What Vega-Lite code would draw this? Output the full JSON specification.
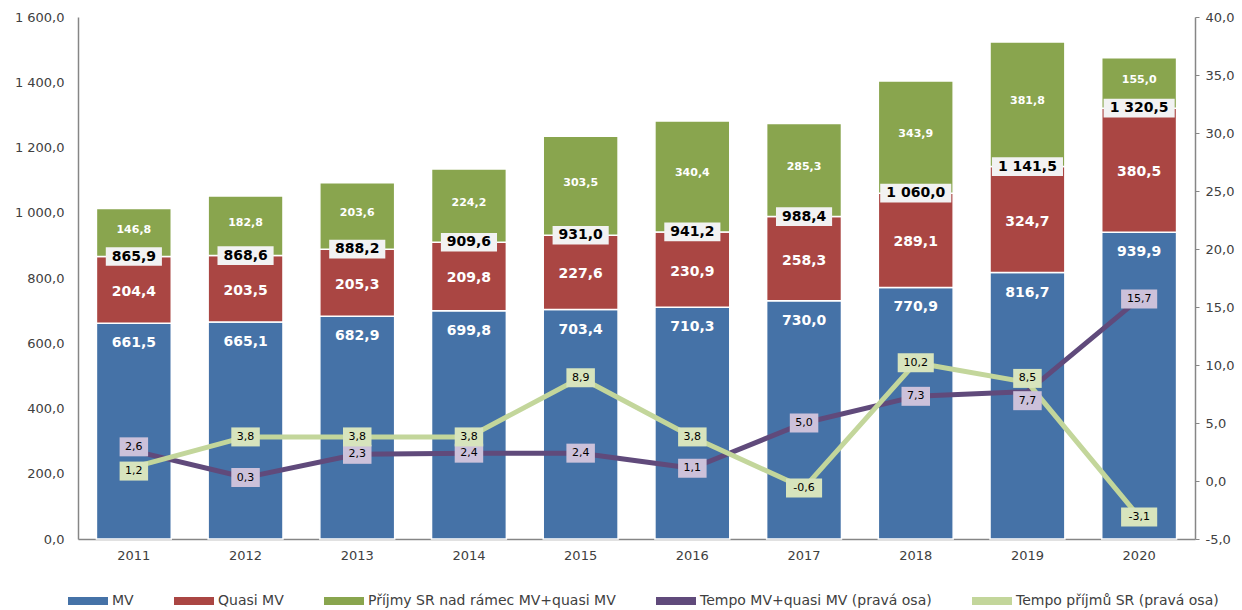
{
  "$schema": "https://vega.github.io/schema/vega-lite/v6.json",
  "width": 1117,
  "height": 522,
  "autosize": {"type": "none"},
  "padding": {"left": 78, "top": 17, "right": 47, "bottom": 71},
  "background": "white",
  "config": {
    "locale": {"number": {"decimal": ",", "thousands": " ", "grouping": [3], "currency": ["", ""], "minus": "-"}},
    "view": {"stroke": null},
    "font": "DejaVu Sans",
    "axis": {"labelFont": "DejaVu Sans", "labelFontSize": 13, "labelColor": "#404040", "domainColor": "#868686", "tickColor": "#868686", "grid": false, "title": null},
    "axisX": {"labelAngle": 0, "ticks": false, "labelPadding": 10, "domainWidth": 1.5},
    "legend": {
      "orient": "none", "legendX": -10, "legendY": 564, "direction": "horizontal", "columns": 5,
      "columnPadding": 40, "labelFont": "DejaVu Sans", "labelFontSize": 14, "labelColor": "#404040", "labelLimit": 0,
      "symbolType": "M-1,-0.2H1V0.2H-1Z", "symbolSize": 1600, "symbolStrokeWidth": 0, "title": null, "labelOffset": 4
    }
  },
  "datasets": {
    "bars": [
      {"year": "2011", "series": "MV", "value": 661.5}, {"year": "2011", "series": "Quasi MV", "value": 204.4}, {"year": "2011", "series": "Příjmy SR nad rámec MV+quasi MV", "value": 146.8},
      {"year": "2012", "series": "MV", "value": 665.1}, {"year": "2012", "series": "Quasi MV", "value": 203.5}, {"year": "2012", "series": "Příjmy SR nad rámec MV+quasi MV", "value": 182.8},
      {"year": "2013", "series": "MV", "value": 682.9}, {"year": "2013", "series": "Quasi MV", "value": 205.3}, {"year": "2013", "series": "Příjmy SR nad rámec MV+quasi MV", "value": 203.6},
      {"year": "2014", "series": "MV", "value": 699.8}, {"year": "2014", "series": "Quasi MV", "value": 209.8}, {"year": "2014", "series": "Příjmy SR nad rámec MV+quasi MV", "value": 224.2},
      {"year": "2015", "series": "MV", "value": 703.4}, {"year": "2015", "series": "Quasi MV", "value": 227.6}, {"year": "2015", "series": "Příjmy SR nad rámec MV+quasi MV", "value": 303.5},
      {"year": "2016", "series": "MV", "value": 710.3}, {"year": "2016", "series": "Quasi MV", "value": 230.9}, {"year": "2016", "series": "Příjmy SR nad rámec MV+quasi MV", "value": 340.4},
      {"year": "2017", "series": "MV", "value": 730.0}, {"year": "2017", "series": "Quasi MV", "value": 258.3}, {"year": "2017", "series": "Příjmy SR nad rámec MV+quasi MV", "value": 285.3},
      {"year": "2018", "series": "MV", "value": 770.9}, {"year": "2018", "series": "Quasi MV", "value": 289.1}, {"year": "2018", "series": "Příjmy SR nad rámec MV+quasi MV", "value": 343.9},
      {"year": "2019", "series": "MV", "value": 816.7}, {"year": "2019", "series": "Quasi MV", "value": 324.7}, {"year": "2019", "series": "Příjmy SR nad rámec MV+quasi MV", "value": 381.8},
      {"year": "2020", "series": "MV", "value": 939.9}, {"year": "2020", "series": "Quasi MV", "value": 380.5}, {"year": "2020", "series": "Příjmy SR nad rámec MV+quasi MV", "value": 155.0}
    ],
    "totals": [
      {"year": "2011", "total": 865.9}, {"year": "2012", "total": 868.6}, {"year": "2013", "total": 888.2},
      {"year": "2014", "total": 909.6}, {"year": "2015", "total": 931.0}, {"year": "2016", "total": 941.2},
      {"year": "2017", "total": 988.4}, {"year": "2018", "total": 1060.0}, {"year": "2019", "total": 1141.5},
      {"year": "2020", "total": 1320.5}
    ],
    "lines": [
      {"year": "2011", "series": "Tempo MV+quasi MV (pravá osa)", "value": 2.6}, {"year": "2011", "series": "Tempo příjmů SR (pravá osa)", "value": 1.2},
      {"year": "2012", "series": "Tempo MV+quasi MV (pravá osa)", "value": 0.3}, {"year": "2012", "series": "Tempo příjmů SR (pravá osa)", "value": 3.8},
      {"year": "2013", "series": "Tempo MV+quasi MV (pravá osa)", "value": 2.3}, {"year": "2013", "series": "Tempo příjmů SR (pravá osa)", "value": 3.8},
      {"year": "2014", "series": "Tempo MV+quasi MV (pravá osa)", "value": 2.4}, {"year": "2014", "series": "Tempo příjmů SR (pravá osa)", "value": 3.8},
      {"year": "2015", "series": "Tempo MV+quasi MV (pravá osa)", "value": 2.4}, {"year": "2015", "series": "Tempo příjmů SR (pravá osa)", "value": 8.9},
      {"year": "2016", "series": "Tempo MV+quasi MV (pravá osa)", "value": 1.1}, {"year": "2016", "series": "Tempo příjmů SR (pravá osa)", "value": 3.8},
      {"year": "2017", "series": "Tempo MV+quasi MV (pravá osa)", "value": 5.0}, {"year": "2017", "series": "Tempo příjmů SR (pravá osa)", "value": -0.6},
      {"year": "2018", "series": "Tempo MV+quasi MV (pravá osa)", "value": 7.3}, {"year": "2018", "series": "Tempo příjmů SR (pravá osa)", "value": 10.2},
      {"year": "2019", "series": "Tempo MV+quasi MV (pravá osa)", "value": 7.7}, {"year": "2019", "series": "Tempo příjmů SR (pravá osa)", "value": 8.5},
      {"year": "2020", "series": "Tempo MV+quasi MV (pravá osa)", "value": 15.7}, {"year": "2020", "series": "Tempo příjmů SR (pravá osa)", "value": -3.1}
    ]
  },
  "layer": [
    {
      "encoding": {
        "x": {"field": "year", "type": "ordinal", "scale": {"paddingInner": 0.33, "paddingOuter": 0.165}},
        "y": {"type": "quantitative", "scale": {"domain": [0, 1600]}, "axis": {"orient": "left", "values": [0, 200, 400, 600, 800, 1000, 1200, 1400, 1600], "format": ",.1f", "ticks": false, "domainWidth": 1.5, "labelPadding": 14}}
      },
      "layer": [
        {
          "data": {"name": "bars"},
          "transform": [
            {"calculate": "indexof(['MV','Quasi MV','Příjmy SR nad rámec MV+quasi MV'], datum.series)", "as": "ord"},
            {"stack": "value", "groupby": ["year"], "sort": [{"field": "ord", "order": "ascending"}], "as": ["y0", "y1"]},
            {"calculate": "(datum.y0 + datum.y1) / 2", "as": "mid"}
          ],
          "layer": [
            {
              "mark": {"type": "bar", "stroke": "white", "strokeWidth": 1.5},
              "encoding": {
                "y": {"field": "y1", "type": "quantitative"},
                "y2": {"field": "y0"},
                "color": {
                  "field": "series", "type": "nominal",
                  "scale": {
                    "domain": ["MV", "Quasi MV", "Příjmy SR nad rámec MV+quasi MV", "Tempo MV+quasi MV (pravá osa)", "Tempo příjmů SR (pravá osa)"],
                    "range": ["#4572A7", "#AA4643", "#89A54E", "#604A7B", "#C3D69B"]
                  },
                  "legend": {"encode": {"symbols": {"update": {"fill": {"scale": "color", "field": "value"}, "strokeWidth": {"value": 0}}}}}
                }
              }
            },
            {
              "transform": [{"filter": "datum.series === 'MV'"}],
              "mark": {"type": "text", "color": "white", "fontWeight": "bold", "fontSize": 14, "dy": 20, "baseline": "middle"},
              "encoding": {"y": {"field": "y1", "type": "quantitative"}, "text": {"field": "value", "type": "quantitative", "format": ",.1f"}}
            },
            {
              "transform": [{"filter": "datum.series === 'Quasi MV'"}],
              "mark": {"type": "text", "color": "white", "fontWeight": "bold", "fontSize": 14, "baseline": "middle", "dy": 2},
              "encoding": {"y": {"field": "mid", "type": "quantitative"}, "text": {"field": "value", "type": "quantitative", "format": ",.1f"}}
            },
            {
              "transform": [{"filter": "datum.series === 'Příjmy SR nad rámec MV+quasi MV'"}],
              "mark": {"type": "text", "color": "white", "fontWeight": "bold", "fontSize": 11, "baseline": "middle", "dy": -3},
              "encoding": {"y": {"field": "mid", "type": "quantitative"}, "text": {"field": "value", "type": "quantitative", "format": ",.1f"}}
            }
          ]
        },
        {
          "data": {"name": "totals"},
          "layer": [
            {
              "mark": {"type": "point", "filled": true, "fill": "#F2F2F2", "opacity": 1, "size": 1400, "strokeWidth": 0},
              "encoding": {
                "y": {"field": "total", "type": "quantitative"},
                "shape": {"condition": {"test": "datum.total >= 1000", "value": "M-1.9,-0.5H1.9V0.5H-1.9Z"}, "value": "M-1.5,-0.5H1.5V0.5H-1.5Z"}
              }
            },
            {
              "mark": {"type": "text", "color": "black", "fontWeight": "bold", "fontSize": 14, "baseline": "middle"},
              "encoding": {"y": {"field": "total", "type": "quantitative"}, "text": {"field": "total", "type": "quantitative", "format": ",.1f"}}
            }
          ]
        }
      ]
    },
    {
      "data": {"name": "lines"},
      "encoding": {
        "x": {"field": "year", "type": "ordinal"},
        "y": {"field": "value", "type": "quantitative", "scale": {"domain": [-5, 40]}, "axis": {"orient": "right", "values": [-5, 0, 5, 10, 15, 20, 25, 30, 35, 40], "format": ".1f", "tickSize": 4, "domainWidth": 1.5, "labelPadding": 6}}
      },
      "layer": [
        {
          "mark": {"type": "line", "strokeWidth": 5, "strokeJoin": "round", "strokeCap": "round"},
          "encoding": {"color": {"field": "series", "type": "nominal"}}
        },
        {
          "mark": {
            "type": "point", "filled": true, "opacity": 1, "size": 361, "strokeWidth": 0,
            "yOffset": {"expr": "datum.year === '2019' ? (datum.series === 'Tempo MV+quasi MV (pravá osa)' ? 9 : -4) : (datum.year === '2011' ? (datum.series === 'Tempo MV+quasi MV (pravá osa)' ? -4 : 4) : 0)"}
          },
          "encoding": {
            "fill": {"condition": {"test": "datum.series === 'Tempo MV+quasi MV (pravá osa)'", "value": "#CCC1DA"}, "value": "#D7E4BD"},
            "shape": {"condition": {"test": "datum.value >= 10 || datum.value < 0", "value": "M-1.9,-1H1.9V1H-1.9Z"}, "value": "M-1.5,-1H1.5V1H-1.5Z"}
          }
        },
        {
          "mark": {
            "type": "text", "color": "black", "fontSize": 11, "baseline": "middle",
            "dy": {"expr": "datum.year === '2019' ? (datum.series === 'Tempo MV+quasi MV (pravá osa)' ? 9 : -4) : (datum.year === '2011' ? (datum.series === 'Tempo MV+quasi MV (pravá osa)' ? -4 : 4) : 0)"}
          },
          "encoding": {
            "text": {"field": "value", "type": "quantitative", "format": ".1f"}
          }
        }
      ]
    }
  ],
  "resolve": {"scale": {"y": "independent"}, "axis": {"y": "independent"}}
}
